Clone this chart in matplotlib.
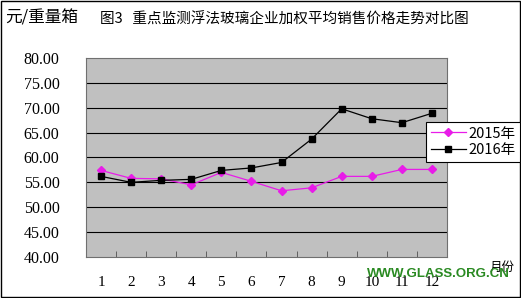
import matplotlib.pyplot as plt
from matplotlib.patches import Rectangle

# data
months = [1, 2, 3, 4, 5, 6, 7, 8, 9, 10, 11, 12]
month_labels = [str(m) for m in months]
price_2015 = [57.4, 55.8, 55.7, 54.5, 57.0, 55.2, 53.3, 53.9, 56.2, 56.2, 57.6, 57.6]
price_2016 = [56.2, 55.0, 55.4, 55.6, 57.4, 57.9, 59.0, 63.7, 69.8, 67.8, 67.0, 68.9]
yticks = [40, 45, 50, 55, 60, 65, 70, 75, 80]

cjk = ['Noto Sans CJK SC', 'DejaVu Sans']
num_font = 'Liberation Serif'

fig = plt.figure(figsize=(5.21, 2.98), dpi=100)
fig.patches.append(Rectangle((0.002, 0.003), 0.996, 0.994, transform=fig.transFigure,
                             fill=False, edgecolor='black', linewidth=1.0))

ax = fig.add_axes([0.165, 0.138, 0.693, 0.667])
ax.set_facecolor('#C0C0C0')
ax.set_xlim(0.5, 12.5)
ax.set_ylim(40, 80)

for y in yticks[1:-1]:
    ax.axhline(y, color='black', linewidth=0.8, zorder=1)

ax.plot(months, price_2015, color='#E81CE8', marker='D', markersize=4,
        linewidth=0.9, label='2015年', zorder=3)
ax.plot(months, price_2016, color='black', marker='s', markersize=4.5,
        linewidth=0.9, label='2016年', zorder=3)

for s in ax.spines.values():
    s.set_color('#707070')
    s.set_linewidth(0.8)

ax.set_yticks(yticks)
ax.set_yticklabels(['%.2f' % v for v in yticks], fontfamily=num_font, fontsize=11.5)
ax.tick_params(axis='y', length=0, pad=19)

ax.set_xticks(months)
ax.set_xticklabels(month_labels, fontfamily=num_font, fontsize=11)
ax.tick_params(axis='x', length=0, pad=14)
ax.set_xticks([m + 0.5 for m in months[:-1]], minor=True)
ax.tick_params(axis='x', which='minor', direction='in', length=4, color='#505050')

leg = fig.legend(loc='upper left', bbox_to_anchor=(0.818, 0.59), frameon=True,
                 fancybox=False, edgecolor='black', framealpha=1,
                 prop={'family': cjk, 'size': 10.5}, handlelength=2.4,
                 borderpad=0.3, labelspacing=0.2, handletextpad=0.2,
                 borderaxespad=0)
leg.get_frame().set_linewidth(0.8)
leg.set_zorder(5)

fig.text(0.01, 0.94, '元/重量箱', fontfamily=cjk, fontsize=12, va='center', ha='left')
fig.text(0.545, 0.935, '图3   重点监测浮法玻璃企业加权平均销售价格走势对比图',
         fontfamily=cjk, fontsize=10.5, va='center', ha='center')
fig.text(0.94, 0.104, '月份', fontfamily=cjk, fontsize=9, va='center', ha='left')
fig.text(0.841, 0.081, 'WWW.GLASS.ORG.CN', fontfamily='Liberation Sans', fontweight='bold',
         fontsize=9.5, color='#2A8A22', va='center', ha='center')

fig.savefig('out.png', dpi=100)
